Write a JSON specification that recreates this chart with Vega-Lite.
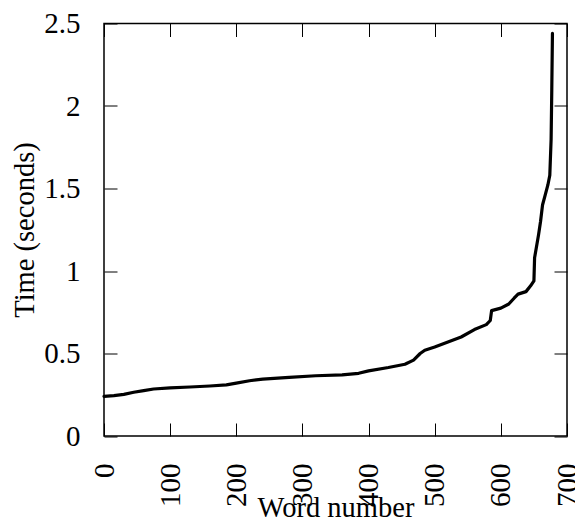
{
  "$schema": "https://vega.github.io/schema/vega-lite/v6.json",
  "width": 463,
  "height": 412.5,
  "autosize": "none",
  "padding": {"left": 104, "top": 23.5, "right": 8, "bottom": 86},
  "background": "white",
  "config": {
    "font": "Liberation Serif",
    "view": {"stroke": "black", "strokeWidth": 1.5},
    "axis": {
      "domain": false,
      "grid": false,
      "tickSize": -13,
      "tickColor": "black",
      "tickWidth": 1,
      "labelFont": "Liberation Serif",
      "labelFontSize": 29,
      "labelColor": "black",
      "titleFont": "Liberation Serif",
      "titleFontSize": 28.5,
      "titleFontWeight": "normal",
      "titleColor": "black"
    }
  },
  "data": {
    "values": [
      {"word": 0, "time": 0.24},
      {"word": 15, "time": 0.245},
      {"word": 30, "time": 0.252},
      {"word": 45, "time": 0.265},
      {"word": 60, "time": 0.275},
      {"word": 75, "time": 0.285},
      {"word": 100, "time": 0.292},
      {"word": 130, "time": 0.297},
      {"word": 160, "time": 0.303},
      {"word": 185, "time": 0.31},
      {"word": 200, "time": 0.32},
      {"word": 220, "time": 0.335},
      {"word": 240, "time": 0.345},
      {"word": 280, "time": 0.355},
      {"word": 320, "time": 0.365},
      {"word": 360, "time": 0.37},
      {"word": 385, "time": 0.38},
      {"word": 400, "time": 0.395},
      {"word": 430, "time": 0.415},
      {"word": 455, "time": 0.435},
      {"word": 468, "time": 0.46},
      {"word": 478, "time": 0.5},
      {"word": 485, "time": 0.52},
      {"word": 500, "time": 0.54},
      {"word": 520, "time": 0.57},
      {"word": 540, "time": 0.6},
      {"word": 560, "time": 0.645},
      {"word": 578, "time": 0.675},
      {"word": 584, "time": 0.7},
      {"word": 586, "time": 0.76},
      {"word": 600, "time": 0.775},
      {"word": 612, "time": 0.8},
      {"word": 620, "time": 0.835},
      {"word": 626, "time": 0.86},
      {"word": 638, "time": 0.875},
      {"word": 645, "time": 0.91},
      {"word": 650, "time": 0.94},
      {"word": 651, "time": 1.08},
      {"word": 654, "time": 1.15},
      {"word": 657, "time": 1.22},
      {"word": 660, "time": 1.3},
      {"word": 663, "time": 1.4},
      {"word": 667, "time": 1.46},
      {"word": 671, "time": 1.52},
      {"word": 674, "time": 1.58},
      {"word": 676, "time": 1.8},
      {"word": 677, "time": 2.1},
      {"word": 678, "time": 2.44}
    ]
  },
  "layer": [
    {
      "mark": {"type": "line", "color": "black", "strokeWidth": 3.2, "strokeJoin": "round", "strokeCap": "round"},
      "encoding": {
        "x": {
          "field": "word", "type": "quantitative",
          "scale": {"domain": [0, 700], "nice": false, "zero": false},
          "axis": {
            "orient": "bottom",
            "values": [0, 100, 200, 300, 400, 500, 600, 700],
            "format": "d",
            "labelAngle": -90,
            "labelPadding": 40,
            "title": "Word number",
            "titleX": 231.5,
            "titleY": 80,
            "titleBaseline": "alphabetic",
            "titleAlign": "center"
          }
        },
        "y": {
          "field": "time", "type": "quantitative",
          "scale": {"domain": [0, 2.5], "nice": false, "zero": false},
          "axis": {
            "orient": "left",
            "values": [0, 0.5, 1, 1.5, 2, 2.5],
            "format": "~g",
            "labelPadding": 37,
            "title": "Time (seconds)",
            "titleAngle": -90,
            "titleX": -71,
            "titleY": 206,
            "titleBaseline": "alphabetic",
            "titleAlign": "center"
          }
        }
      }
    },
    {
      "mark": {"type": "line", "strokeOpacity": 0},
      "encoding": {
        "x": {
          "field": "word", "type": "quantitative",
          "axis": {"orient": "top", "values": [0, 100, 200, 300, 400, 500, 600, 700], "labels": false, "title": null}
        },
        "y": {
          "field": "time", "type": "quantitative",
          "axis": {"orient": "right", "values": [0, 0.5, 1, 1.5, 2, 2.5], "labels": false, "title": null}
        }
      }
    }
  ],
  "resolve": {"axis": {"x": "independent", "y": "independent"}}
}
